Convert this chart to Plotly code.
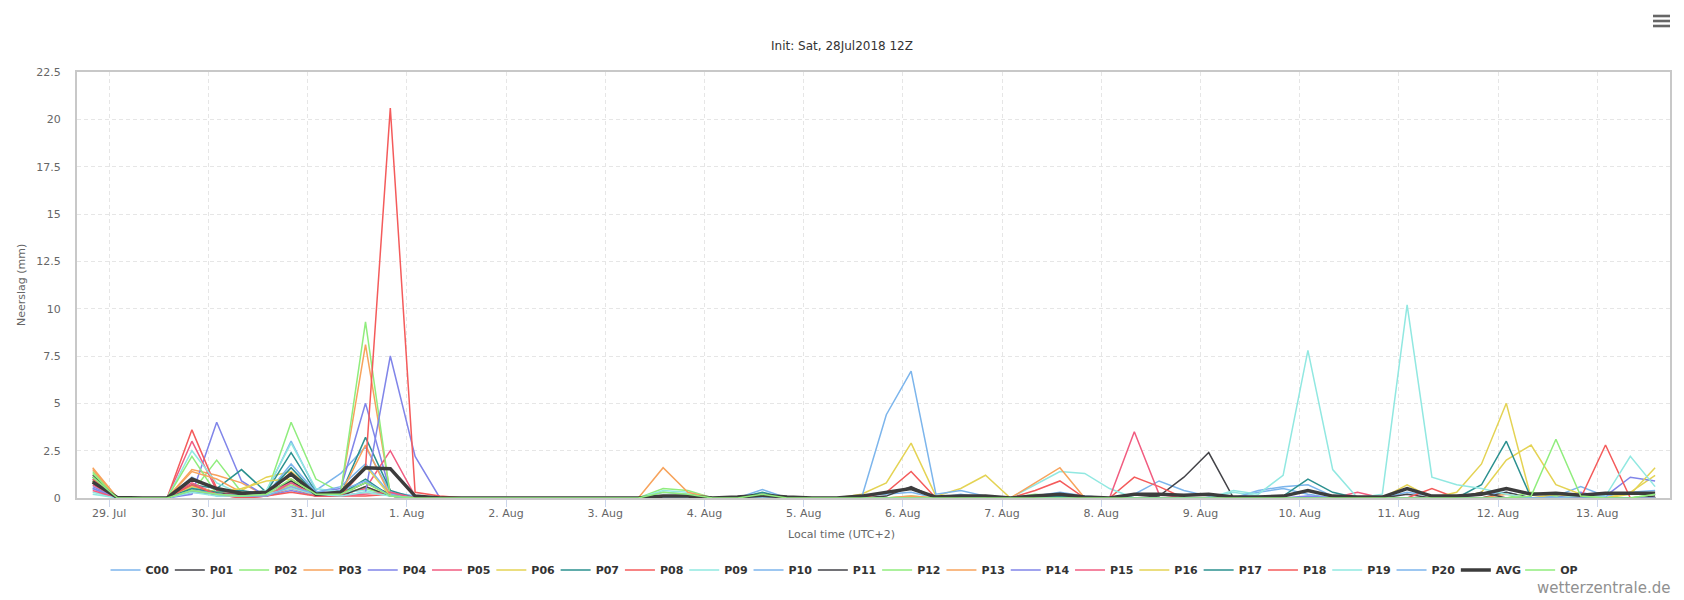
import pandas as pd
import plotly.graph_objects as go

# 6-hourly precipitation, local time (UTC+2), run 28Jul2018 12Z, +6h .. +384h
times = pd.date_range("2018-07-28 20:00", periods=64, freq="6h")

C00 = [1.0, 0, 0, 0, 1.1, 0.4, 0.2, 0.3,
       3.0, 0.4, 1.3, 2.7, 0.3, 0.1, 0, 0,
       0, 0, 0, 0, 0, 0, 0, 0.3,
       0.2, 0, 0, 0.2, 0, 0, 0, 0.1,
       0.2, 0.3, 0, 0.2, 0, 0, 0.1, 0.3,
       0.1, 0, 0.2, 0.9, 0.4, 0.1, 0, 0.3,
       0.5, 0.2, 0, 0, 0, 0.3, 0.1, 0,
       0.2, 0.3, 0, 0.1, 0.6, 0.1, 0.3, 0.4]
P01 = [1.2, 0, 0, 0, 0.6, 0.3, 0.1, 0.4,
       1.2, 0.1, 0.2, 0.8, 0.2, 0, 0, 0,
       0, 0, 0, 0, 0, 0, 0, 0,
       0, 0, 0, 0.1, 0, 0, 0, 0,
       0.1, 0.6, 0, 0, 0, 0, 0, 0.2,
       0, 0, 0, 0.1, 1.1, 2.4, 0, 0,
       0, 0, 0, 0, 0, 0.2, 0, 0,
       0, 0.3, 0, 0, 0, 0, 0, 0.1]
P02 = [1.3, 0, 0, 0, 0.3, 2.0, 0.3, 0.2,
       4.0, 1.0, 0.3, 0.5, 0.1, 0, 0, 0,
       0, 0, 0, 0, 0, 0, 0, 0.5,
       0.4, 0, 0, 0.1, 0, 0, 0, 0,
       0, 0.1, 0, 0, 0, 0, 0.2, 0.1,
       0, 0, 0, 0, 0, 0, 0, 0,
       0, 0, 0, 0, 0, 0, 0, 0,
       0, 0, 0.3, 0.1, 0, 0, 0, 0.2]
P03 = [1.6, 0, 0, 0, 1.5, 1.2, 0.8, 0.1,
       1.4, 0.2, 0.3, 8.1, 0.2, 0, 0, 0,
       0, 0, 0, 0, 0, 0, 0, 0,
       0, 0, 0, 0, 0, 0, 0, 0,
       0, 0.1, 0, 0, 0, 0, 0, 0,
       0, 0, 0, 0, 0, 0, 0, 0,
       0, 0, 0, 0, 0, 0, 0, 0,
       0, 0.2, 0, 0, 0, 0, 0, 0]
P04 = [0.6, 0, 0, 0, 0.2, 4.0, 0.9, 0.1,
       0.8, 0.3, 0.5, 5.0, 0.3, 0, 0, 0,
       0, 0, 0, 0, 0, 0, 0, 0,
       0, 0, 0, 0, 0, 0, 0, 0,
       0, 0, 0, 0, 0, 0, 0, 0,
       0, 0, 0, 0, 0, 0, 0, 0,
       0, 0.1, 0, 0, 0, 0, 0, 0,
       0, 0, 0, 0, 0.3, 0, 0, 0]
P05 = [0.7, 0, 0, 0, 3.0, 0.4, 0, 0.1,
       0.9, 0.1, 0.2, 0.5, 2.5, 0.1, 0, 0,
       0, 0, 0, 0, 0, 0, 0, 0,
       0, 0, 0, 0, 0, 0, 0, 0,
       0, 0, 0, 0, 0, 0, 0, 0,
       0, 0, 0, 0, 0, 0, 0, 0,
       0, 0, 0, 0.3, 0, 0, 0, 0,
       0, 0, 0, 0, 0, 0, 0, 0]
P06 = [1.1, 0, 0, 0, 0.5, 0.3, 0.4, 1.1,
       1.4, 0.2, 0.1, 0.6, 0.1, 0, 0, 0,
       0, 0, 0, 0, 0, 0, 0, 0,
       0, 0, 0, 0, 0, 0, 0, 0.2,
       0.8, 2.9, 0.1, 0.5, 1.2, 0, 0, 0,
       0, 0, 0, 0, 0, 0, 0, 0,
       0, 0, 0, 0, 0, 0, 0, 0,
       0.3, 2.0, 2.8, 0.7, 0.2, 0, 0.3, 1.2]
P07 = [0.9, 0, 0, 0, 0.7, 0.5, 1.5, 0.3,
       2.4, 0.3, 0.2, 3.2, 0.4, 0, 0, 0,
       0, 0, 0, 0, 0, 0, 0, 0,
       0, 0, 0, 0.3, 0, 0, 0, 0,
       0, 0, 0, 0, 0, 0, 0, 0.1,
       0, 0, 0, 0, 0, 0, 0, 0,
       0, 0, 0, 0, 0, 0, 0, 0,
       0, 0, 0, 0, 0, 0, 0, 0]
P08 = [0.8, 0, 0, 0, 3.6, 0.5, 0.1, 0.1,
       0.5, 0.1, 0.1, 0.1, 0.2, 0, 0, 0,
       0, 0, 0, 0, 0, 0, 0, 0,
       0, 0, 0, 0, 0, 0, 0, 0,
       0.3, 1.4, 0, 0, 0, 0, 0.4, 0.9,
       0, 0, 1.1, 0.6, 0, 0, 0, 0,
       0, 0, 0, 0, 0, 0, 0.5, 0,
       0, 0, 0, 0, 0, 0, 0, 0]
P09 = [0.3, 0, 0, 0, 2.5, 0.8, 0.2, 0.4,
       2.9, 0.5, 0.3, 0.4, 0.1, 0, 0, 0,
       0, 0, 0, 0, 0, 0, 0, 0.4,
       0.3, 0, 0, 0, 0, 0, 0, 0,
       0, 0, 0, 0, 0, 0, 0.7, 1.4,
       1.3, 0.5, 0, 0, 0, 0, 0.3, 0.1,
       0, 0, 0, 0, 0, 0, 0, 0,
       0, 0, 0, 0, 0, 0, 0, 0]
P10 = [0.5, 0, 0, 0, 0.6, 0.1, 0.1, 0.2,
       1.8, 0.3, 0.6, 1.8, 0.2, 0, 0, 0,
       0, 0, 0, 0, 0, 0, 0, 0,
       0, 0, 0, 0.45, 0, 0, 0, 0,
       0, 0, 0, 0, 0, 0, 0, 0,
       0, 0, 0, 0, 0, 0, 0, 0.4,
       0.6, 0.7, 0.1, 0, 0, 0, 0, 0,
       0, 0, 0, 0, 0, 0, 0, 0]
P11 = [0.9, 0, 0, 0, 0.4, 0.2, 0.2, 0.3,
       0.9, 0.1, 0.1, 0.6, 0.1, 0, 0, 0,
       0, 0, 0, 0, 0, 0, 0, 0,
       0, 0, 0, 0, 0, 0, 0, 0,
       0, 0, 0, 0, 0, 0, 0, 0,
       0, 0, 0, 0, 0, 0, 0, 0,
       0, 0, 0, 0, 0, 0, 0, 0,
       0.3, 0, 0, 0, 0, 0, 0, 0]
P12 = [1.4, 0, 0, 0, 2.2, 0.2, 0.1, 0.2,
       0.7, 0.2, 0.3, 9.3, 0.1, 0, 0, 0,
       0, 0, 0, 0, 0, 0, 0, 0,
       0, 0, 0, 0, 0, 0, 0, 0,
       0, 0, 0, 0, 0, 0, 0, 0,
       0, 0, 0, 0, 0, 0, 0, 0,
       0, 0, 0, 0, 0, 0, 0, 0,
       0, 0, 0, 0, 0, 0, 0, 0]
P13 = [1.5, 0, 0, 0, 1.4, 1.0, 0.3, 0.2,
       0.6, 0.1, 0.2, 2.8, 0.1, 0, 0, 0,
       0, 0, 0, 0, 0, 0, 0, 1.6,
       0.3, 0, 0, 0, 0, 0, 0, 0,
       0, 0, 0, 0, 0, 0, 0.8, 1.6,
       0, 0, 0, 0, 0, 0, 0, 0,
       0, 0, 0, 0, 0, 0, 0, 0,
       0, 0, 0, 0, 0, 0, 0, 0]
P14 = [0.5, 0, 0, 0, 0.3, 0.2, 0.1, 0.1,
       0.4, 0.1, 0.1, 0.3, 7.5, 2.2, 0, 0,
       0, 0, 0, 0, 0, 0, 0, 0,
       0, 0, 0, 0, 0, 0, 0, 0,
       0, 0, 0, 0, 0, 0, 0, 0,
       0, 0, 0, 0, 0, 0, 0, 0,
       0, 0, 0, 0, 0, 0, 0, 0,
       0, 0, 0, 0, 0.2, 0.1, 1.1, 0.9]
P15 = [0.4, 0, 0, 0, 0.8, 0.2, 0, 0.1,
       0.8, 0.1, 0.1, 0.2, 0.3, 0, 0, 0,
       0, 0, 0, 0, 0, 0, 0, 0,
       0, 0, 0, 0, 0, 0, 0, 0,
       0, 0, 0, 0, 0, 0, 0, 0,
       0, 0, 3.5, 0.2, 0, 0, 0, 0,
       0, 0, 0, 0, 0, 0, 0, 0,
       0, 0, 0, 0, 0, 0, 0, 0]
P16 = [0.9, 0, 0, 0, 0.6, 0.3, 0.5, 0.9,
       1.0, 0.2, 0.2, 1.7, 0.1, 0, 0, 0,
       0, 0, 0, 0, 0, 0, 0, 0,
       0, 0, 0, 0, 0, 0, 0, 0,
       0, 0, 0, 0, 0, 0, 0, 0,
       0, 0, 0, 0, 0, 0, 0, 0,
       0, 0, 0, 0, 0, 0.7, 0, 0.3,
       1.8, 5.0, 0, 0.2, 0, 0, 0.2, 1.6]
P17 = [1.1, 0, 0, 0, 0.5, 0.3, 0.4, 0.2,
       1.6, 0.2, 0.2, 1.0, 0.1, 0, 0, 0,
       0, 0, 0, 0, 0, 0, 0, 0,
       0, 0, 0, 0, 0, 0, 0, 0,
       0, 0, 0, 0, 0, 0, 0, 0,
       0, 0, 0, 0, 0, 0, 0, 0,
       0.1, 1.0, 0.3, 0, 0, 0, 0, 0,
       0.7, 3.0, 0, 0, 0, 0, 0, 0]
P18 = [1.0, 0, 0, 0, 0.7, 0.2, 0, 0.1,
       0.3, 0.1, 0.1, 1.6, 20.6, 0.3, 0.1, 0,
       0, 0, 0, 0, 0, 0, 0, 0,
       0, 0, 0, 0, 0, 0, 0, 0,
       0, 0, 0, 0, 0, 0, 0, 0,
       0, 0, 0, 0, 0, 0, 0, 0,
       0, 0, 0, 0, 0, 0, 0, 0,
       0, 0, 0, 0, 0, 2.8, 0, 0]
P19 = [0.2, 0, 0, 0, 0.3, 0.1, 0.1, 0.2,
       0.5, 0.2, 0.1, 0.3, 0.1, 0, 0, 0,
       0, 0, 0, 0, 0, 0, 0, 0,
       0, 0, 0, 0, 0, 0, 0, 0,
       0, 0, 0, 0, 0, 0, 0, 0,
       0, 0, 0, 0, 0, 0, 0.4, 0.2,
       1.2, 7.8, 1.5, 0, 0.2, 10.2, 1.1, 0.7,
       0.5, 0.2, 0, 0, 0.1, 0.1, 2.2, 0.6]
P20 = [0.8, 0, 0, 0, 0.4, 0.2, 0.1, 0.1,
       0.6, 0.2, 0.4, 0.9, 0.1, 0, 0, 0,
       0, 0, 0, 0, 0, 0, 0, 0,
       0, 0, 0, 0, 0, 0, 0, 0,
       4.4, 6.7, 0.2, 0.4, 0.1, 0, 0, 0,
       0, 0, 0, 0, 0, 0, 0, 0,
       0, 0, 0, 0, 0, 0, 0, 0,
       0, 0, 0, 0, 0, 0, 0, 0]
AVG = [0.85, 0.02, 0, 0, 1.0, 0.5, 0.25, 0.3,
       1.27, 0.2, 0.3, 1.6, 1.55, 0.1, 0, 0,
       0, 0, 0, 0, 0, 0, 0, 0.1,
       0.1, 0, 0.05, 0.15, 0.05, 0, 0, 0.1,
       0.3, 0.5, 0.05, 0.1, 0.1, 0, 0.1, 0.2,
       0.05, 0, 0.2, 0.2, 0.15, 0.2, 0.05, 0.05,
       0.1, 0.4, 0.1, 0.05, 0.05, 0.5, 0.1, 0.1,
       0.2, 0.5, 0.2, 0.25, 0.15, 0.25, 0.25, 0.25]
OP = [1.1, 0, 0, 0, 0.4, 0.2, 0.1, 0.2,
      1.0, 0.2, 0.2, 0.8, 0.1, 0, 0, 0,
      0, 0, 0, 0, 0, 0, 0, 0.3,
      0.2, 0, 0, 0.2, 0, 0, 0, 0,
      0, 0, 0, 0, 0, 0, 0, 0,
      0, 0, 0, 0, 0, 0, 0, 0,
      0, 0, 0, 0, 0, 0, 0, 0,
      0, 0, 0.1, 3.1, 0.1, 0, 0, 0.2]

names = ["C00", "P01", "P02", "P03", "P04", "P05", "P06", "P07", "P08", "P09", "P10",
         "P11", "P12", "P13", "P14", "P15", "P16", "P17", "P18", "P19", "P20", "AVG", "OP"]
series = [C00, P01, P02, P03, P04, P05, P06, P07, P08, P09, P10,
          P11, P12, P13, P14, P15, P16, P17, P18, P19, P20, AVG, OP]
palette = ["#7cb5ec", "#434348", "#90ed7d", "#f7a35c", "#8085e9",
           "#f15c80", "#e4d354", "#2b908f", "#f45b5b", "#91e8e1"]
day_ticks = pd.date_range("2018-07-29", "2018-08-13", freq="D")

FONT = "DejaVu Sans, Lucida Grande, Arial"

fig = go.Figure()
for k, (name, vals) in enumerate(zip(names, series)):
    if name == "AVG":
        color, width = "#3c3c3c", 3.5
    else:
        color, width = palette[k % 10], 1.5
    fig.add_trace(go.Scatter(x=times, y=vals, name=name, mode="lines",
                             line=dict(color=color, width=width)))

# plot area px: left 77, right 1672, top 72, bottom 498
W, H = 1684, 600
L, R, T, B = 77, 1672, 72, 498
def px(x):
    return (x - L) / (R - L)
def py(y):
    return (B - y) / (B - T)

fig.update_layout(
    width=W, height=H,
    margin=dict(l=L, r=W - R, t=T, b=H - B),
    paper_bgcolor="white", plot_bgcolor="white",
    font=dict(family=FONT, color="#666666", size=11),
    title=dict(text="Init: Sat, 28Jul2018 12Z", x=0.5, xref="container",
               y=1 - 46 / H, yref="container", yanchor="middle",
               font=dict(size=12, color="#333333")),
    showlegend=True,
    legend=dict(orientation="h", x=px(846), xanchor="center", y=py(570), yanchor="middle",
                font=dict(size=11, color="#333333", weight="bold"),
                entrywidth=19.3, itemwidth=30, tracegroupgap=0, bgcolor="rgba(0,0,0,0)"),
    xaxis=dict(type="date", range=["2018-07-28 16:12", "2018-08-13 17:36"],
               tickvals=day_ticks, tickformat="%-d. %b",
               ticks="outside", ticklen=7, tickcolor="#ccd6eb", tickwidth=1,
               ticklabelstandoff=-3,
               showgrid=True, gridcolor="#e6e6e6", griddash="4px,3px", gridwidth=1,
               showline=True, mirror=True, linecolor="#c8c8c8", linewidth=2,
               tickfont=dict(size=11, color="#666666"), zeroline=False),
    yaxis=dict(range=[0, 22.5], tickvals=[0, 2.5, 5, 7.5, 10, 12.5, 15, 17.5, 20, 22.5],
               ticktext=["0", "2.5", "5", "7.5", "10", "12.5", "15", "17.5", "20", "22.5"],
               ticks="", ticklabelstandoff=12,
               showgrid=True, gridcolor="#e6e6e6", griddash="4px,3px", gridwidth=1,
               showline=True, mirror=True, linecolor="#c8c8c8", linewidth=2,
               tickfont=dict(size=11, color="#666666"), zeroline=False),
    annotations=[
        dict(text="Neerslag (mm)", x=px(21), y=py(285), xref="paper", yref="paper",
             xanchor="center", yanchor="middle",
             textangle=-90, showarrow=False, font=dict(size=11, color="#666666")),
        dict(text="Local time (UTC+2)", x=px(842), y=py(534), xref="paper", yref="paper",
             xanchor="center", yanchor="middle",
             showarrow=False, font=dict(size=11, color="#666666")),
        dict(text="wetterzentrale.de", x=px(1674), y=py(588), xref="paper", yref="paper",
             xanchor="right", yanchor="middle", showarrow=False,
             font=dict(size=15, color="#909090")),
    ],
)

# export menu icon (three bars), top right
for yc in (16, 21, 26):
    fig.add_shape(type="rect", xref="paper", yref="paper",
                  x0=px(1655), x1=px(1672), y0=py(yc + 1.3), y1=py(yc - 1.3),
                  fillcolor="#666666", line=dict(width=0))

# page body has a default 8px margin; drop it so the chart sits at the page corner
fig.write_html("out.html", config={"displayModeBar": False},
               post_script="document.body.style.margin = '0';")
